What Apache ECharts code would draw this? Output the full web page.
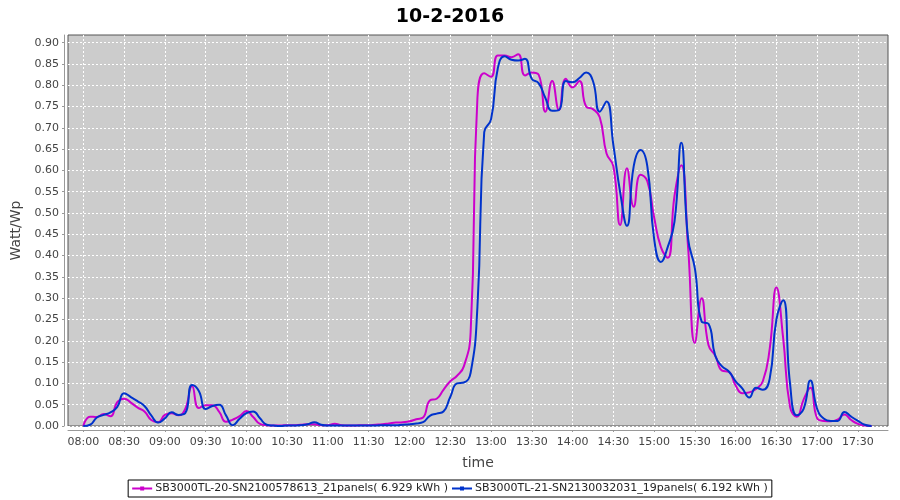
<!DOCTYPE html>
<html>
<head>
<meta charset="utf-8">
<script src="https://cdn.jsdelivr.net/npm/echarts@6/dist/echarts.min.js"></script>
<style>html,body{margin:0;padding:0;background:#fff;}#c{width:900px;height:500px;}</style>
</head>
<body>
<div id="c"></div>
<script>
const times = [
"08:00","08:05","08:10","08:15","08:20","08:25","08:30","08:35","08:40","08:45","08:50","08:55",
"09:00","09:05","09:10","09:15","09:20","09:25","09:30","09:35","09:40","09:45","09:50","09:55",
"10:00","10:05","10:10","10:15","10:20","10:25","10:30","10:35","10:40","10:45","10:50","10:55",
"11:00","11:05","11:10","11:15","11:20","11:25","11:30","11:35","11:40","11:45","11:50","11:55",
"12:00","12:05","12:10","12:15","12:20","12:25","12:30","12:35","12:40","12:45","12:50","12:55",
"13:00","13:05","13:10","13:15","13:20","13:25","13:30","13:35","13:40","13:45","13:50","13:55",
"14:00","14:05","14:10","14:15","14:20","14:25","14:30","14:35","14:40","14:45","14:50","14:55",
"15:00","15:05","15:10","15:15","15:20","15:25","15:30","15:35","15:40","15:45","15:50","15:55",
"16:00","16:05","16:10","16:15","16:20","16:25","16:30","16:35","16:40","16:45","16:50","16:55",
"17:00","17:05","17:10","17:15","17:20","17:25","17:30","17:35","17:40"
];
const sb20 = [
0,0.022,0.021,0.028,0.023,0.056,0.064,0.055,0.043,0.034,0.014,0.009,
0.026,0.030,0.025,0.040,0.094,0.042,0.049,0.049,0.033,0.010,0.015,0.023,
0.035,0.021,0.005,0.002,0.001,0.001,0.002,0.002,0.003,0.004,0.004,0.002,
0.002,0.005,0.002,0.001,0.001,0.002,0.002,0.003,0.004,0.006,0.008,0.009,
0.011,0.016,0.020,0.060,0.064,0.085,0.105,0.118,0.140,0.220,0.770,0.828,
0.820,0.870,0.870,0.866,0.873,0.823,0.830,0.825,0.738,0.810,0.742,0.815,
0.795,0.810,0.750,0.744,0.725,0.640,0.610,0.472,0.605,0.515,0.590,0.575,
0.490,0.420,0.395,0.540,0.612,0.420,0.195,0.300,0.190,0.165,0.130,0.127,
0.095,0.077,0.079,0.087,0.105,0.180,0.325,0.205,0.045,0.022,0.062,0.090,
0.018,0.012,0.011,0.015,0.027,0.014,0.005,0.001,0
];
const sb21 = [
0,0.003,0.020,0.026,0.032,0.045,0.077,0.068,0.058,0.047,0.025,0.008,
0.018,0.032,0.026,0.030,0.096,0.082,0.040,0.047,0.050,0.025,0.002,0.017,
0.030,0.034,0.018,0.003,0.001,0,0.001,0.001,0.002,0.004,0.009,0.003,
0.001,0.001,0.001,0.001,0.001,0.001,0.001,0.001,0.002,0.002,0.002,0.003,
0.004,0.006,0.009,0.024,0.029,0.034,0.068,0.100,0.102,0.125,0.280,0.690,
0.720,0.840,0.868,0.860,0.858,0.862,0.815,0.805,0.770,0.740,0.742,0.810,
0.807,0.817,0.830,0.810,0.738,0.762,0.660,0.549,0.470,0.610,0.648,0.610,
0.440,0.385,0.420,0.480,0.665,0.440,0.370,0.245,0.240,0.165,0.140,0.128,
0.105,0.088,0.067,0.090,0.085,0.110,0.250,0.295,0.100,0.025,0.040,0.107,
0.040,0.017,0.012,0.012,0.033,0.022,0.012,0.003,0
];
const xTickLabels = ["08:00","08:30","09:00","09:30","10:00","10:30","11:00","11:30","12:00","12:30","13:00","13:30","14:00","14:30","15:00","15:30","16:00","16:30","17:00","17:30"];
const yTicks = [0,0.05,0.10,0.15,0.20,0.25,0.30,0.35,0.40,0.45,0.50,0.55,0.60,0.65,0.70,0.75,0.80,0.85,0.90];
const seriesNames = ["SB3000TL-20-SN2100578613_21panels( 6.929 kWh )","SB3000TL-21-SN2130032031_19panels( 6.192 kWh )"];
const titleText = "10-2-2016";

function toMin(s){const p=s.split(':');return (+p[0])*60+(+p[1]);}
function fmt(m){const h=Math.floor(m/60),mm=Math.round(m%60);return (h<10?'0':'')+h+':'+(mm<10?'0':'')+mm;}
const xTickVals = xTickLabels.map(toMin);
const d20 = times.map((t,i)=>[toMin(t),sb20[i]]);
const d21 = times.map((t,i)=>[toMin(t),sb21[i]]);
const FONT = 'DejaVu Sans';

const chart = echarts.init(document.getElementById('c'), null, {renderer:'canvas'});
chart.setOption({
  animation:false,
  backgroundColor:'#ffffff',
  title:{text:titleText,left:'center',top:3,textStyle:{fontFamily:FONT,fontSize:19,fontWeight:'bold',color:'#000'}},
  grid:{left:68,top:35,width:820,height:391,show:true,backgroundColor:'#cccccc',borderColor:'#555555',borderWidth:1},
  xAxis:{type:'value',min:468.74,max:1072.1,
    name:'time',nameLocation:'middle',nameGap:26,
    nameTextStyle:{fontFamily:FONT,fontSize:14,color:'#444'},
    offset:4,
    axisLine:{show:true,onZero:false,lineStyle:{color:'#999',width:1}},
    axisTick:{show:true,length:2,customValues:xTickVals,lineStyle:{color:'#999'}},
    axisLabel:{customValues:xTickVals,formatter:v=>fmt(v),fontFamily:FONT,fontSize:11,color:'#444',margin:7},
    splitLine:{show:true,lineStyle:{color:'#ffffff',type:[2,2],width:1}}
  },
  yAxis:{type:'value',min:0,max:0.918,
    name:'Watt/Wp',nameLocation:'middle',nameGap:35,nameRotate:90,
    nameTextStyle:{fontFamily:FONT,fontSize:14,color:'#444'},
    offset:4,
    axisLine:{show:true,lineStyle:{color:'#999',width:1}},
    axisTick:{show:true,length:2,customValues:yTicks,lineStyle:{color:'#999'}},
    axisLabel:{customValues:yTicks,formatter:v=>v.toFixed(2),fontFamily:FONT,fontSize:11,color:'#444',margin:5},
    splitLine:{show:true,lineStyle:{color:'#ffffff',type:[2,2],width:1}}
  },
  legend:{bottom:3,left:'center',orient:'horizontal',
    borderColor:'#000',borderWidth:1,padding:[3,4,3,4],itemGap:4,
    itemWidth:20,itemHeight:4,
    icon:'path://M0,4 L20,4 L20,6 L0,6 Z M8,3 L12,3 L12,7 L8,7 Z',
    textStyle:{fontFamily:FONT,fontSize:11,color:'#222',padding:[0,0,0,-2]},
    data:seriesNames},
  series:[
    {name:seriesNames[0],type:'line',data:d20,smooth:true,showSymbol:false,clip:true,
      lineStyle:{color:'#cc00cc',width:2},itemStyle:{color:'#cc00cc'},z:3},
    {name:seriesNames[1],type:'line',data:d21,smooth:true,showSymbol:false,clip:true,
      lineStyle:{color:'#0033cc',width:2},itemStyle:{color:'#0033cc'},z:4}
  ]
});
</script>
</body>
</html>
